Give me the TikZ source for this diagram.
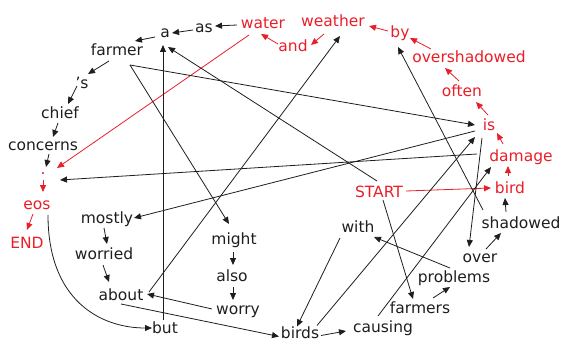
\documentclass[tikz,border=0pt]{standalone}
\usepackage{fontspec}
\setmainfont{DejaVu Sans}
\usetikzlibrary{arrows.meta,calc}
\definecolor{hl}{RGB}{234,30,40}
\definecolor{ink}{RGB}{30,30,30}

\begin{document}
\begin{tikzpicture}[x=1pt,y=-1pt,
  word/.style={anchor=base,inner sep=0pt,font=\fontsize{15.5}{18}\selectfont,text=ink},
  hot/.style={word,text=hl},
  link/.style={draw=ink,line width=0.8pt,-{Triangle[length=7pt,width=6pt]}},
  hotlink/.style={link,draw=hl}]
\useasboundingbox (0,0) rectangle (562,342);

% words (placed by their baselines)
\node[word] (a) at (165,38) {a};
\node[word] (as) at (204,33) {as};
\node[hot] (water) at (263,29) {water};
\node[hot] (weather) at (333,27) {weather};
\node[hot] (and) at (293,52) {and};
\node[hot] (by) at (400,38) {by};
\node[hot] (overshadowed) at (469,63) {overshadowed};
\node[hot] (often) at (462,97) {often};
\node[hot] (is) at (489,131) {is};
\node[hot] (damage) at (521,161) {damage};
\node[hot] (bird) at (510,193) {bird};
\node[word] (shadowed) at (521,228) {shadowed};
\node[word] (over) at (480,262) {over};
\node[word] (problems) at (454,282) {problems};
\node[word] (farmers) at (420,313) {farmers};
\node[word] (causing) at (383,332) {causing};
\node[word] (birds) at (300,338.5) {birds};
\node[word] (with) at (358,232) {with};
\node[hot] (start) at (379,197) {START};
\node[word] (might) at (234,244) {might};
\node[word] (also) at (232,281) {also};
\node[word] (worry) at (238,314) {worry};
\node[word] (but) at (165,333) {but};
\node[word] (about) at (121,300) {about};
\node[word] (worried) at (104,259) {worried};
\node[word] (mostly) at (107,223) {mostly};
\node[hot] (end) at (27,248) {END};
\node[hot] (eos) at (37,209) {eos};
\node[hot] (dot) at (43,175) {.};
\node[word] (concerns) at (43,150) {concerns};
\node[word] (chief) at (60,119) {chief};
\node[word] (s) at (82,89) {’s};
\node[word] (farmer) at (117,56) {farmer};

% red chain
\draw[hotlink] ($(start.base)+(27,-6)$) -- ($(bird.base)+(-19,-5)$);
\draw[hotlink] ($(bird.base)+(-2,-17)$) -- ($(damage.base)+(-13,5)$);
\draw[hotlink] ($(damage.base)+(-18,-17)$) -- ($(is.base)+(8,2)$);
\draw[hotlink] ($(is.base)+(-1,-16)$) -- ($(often.base)+(14,5)$);
\draw[hotlink] ($(often.base)+(-3,-16)$) -- ($(overshadowed.base)+(-24,5)$);
\draw[hotlink] ($(overshadowed.base)+(-38,-14)$) -- ($(by.base)+(10,0)$);
\draw[hotlink] ($(by.base)+(-12,-7)$) -- ($(weather.base)+(36,-1)$);
\draw[hotlink] ($(weather.base)+(-9,7)$) -- ($(and.base)+(18,-7)$);
\draw[hotlink] ($(and.base)+(-15,-8)$) -- ($(water.base)+(-2,5)$);
\draw[hotlink] ($(water.base)+(-14,6)$) -- ($(dot.base)+(14,-7)$);
\draw[hotlink] ($(dot.base)+(0,5)$) -- ($(eos.base)+(6,-17)$);
\draw[hotlink] ($(eos.base)+(-4,5)$) -- ($(end.base)+(0,-18)$);

% short black links
\draw[link] ($(water.base)+(-26,-4)$) -- ($(as.base)+(11,-7)$);
\draw[link] ($(as.base)+(-11,-3)$) -- ($(a.base)+(7,-5)$);
\draw[link] ($(a.base)+(-10,-1)$) -- ($(farmer.base)+(18,-15)$);
\draw[link] ($(farmer.base)+(-8,5)$) -- ($(s.base)+(6,-15)$);
\draw[link] ($(s.base)+(-5,-3)$) -- ($(chief.base)+(8,-15)$);
\draw[link] ($(chief.base)+(-2,4)$) -- ($(concerns.base)+(10,-13)$);
\draw[link] ($(concerns.base)+(6,4)$) -- ($(dot.base)+(3,-8)$);
\draw[link] ($(mostly.base)+(-3,5)$) -- ($(worried.base)+(3,-15)$);
\draw[link] ($(worried.base)+(-1,6)$) -- ($(about.base)+(-12,-18)$);
\draw[link] ($(might.base)+(-1,8)$) -- ($(also.base)+(1,-16)$);
\draw[link] ($(also.base)+(1,6)$) -- ($(worry.base)+(-5,-14)$);
\draw[link] ($(birds.base)+(21,-3)$) -- ($(causing.base)+(-37,-1)$);
\draw[link] ($(farmers.base)+(13,-15)$) -- ($(problems.base)+(-4,5)$);
\draw[link] ($(over.base)+(6,-13)$) -- ($(shadowed.base)+(-20,5)$);
\draw[link] ($(shadowed.base)+(-15,-16)$) -- ($(bird.base)+(-5,5)$);

% long black links
\draw[link] ($(damage.base)+(-44,-7)$) -- ($(dot.base)+(17,5)$);
\draw[link] ($(farmer.base)+(13,9)$) -- ($(is.base)+(-14,-6)$);
\draw[link] ($(farmer.base)+(13,9)$) -- ($(might.base)+(-5,-20)$);
\draw[link] ($(is.base)+(-14,0)$) -- ($(mostly.base)+(27,-5)$);
\draw[link] ($(start.base)+(-2,-16)$) -- ($(a.base)+(3,9)$);
\draw[link] ($(but.base)+(-2,-13)$) -- ($(a.base)+(-2,7)$);
\draw[link] ($(about.base)+(28,-8)$) -- ($(weather.base)+(7,9)$);
\draw[link] ($(about.base)+(0,4)$) -- ($(birds.base)+(-21,-2)$);
\draw[link] ($(worry.base)+(-26,-5)$) -- ($(about.base)+(26,-6)$);
\draw[link] ($(eos.base)+(11,6)$) .. controls +(0,85) and +(-52,0) .. ($(but.base)+(-13,-5)$);
\draw[link] ($(with.base)+(-18,6)$) -- ($(birds.base)+(-3,-12)$);
\draw[link] ($(birds.base)+(17,-13)$) -- ($(is.base)+(-14,6)$);
\draw[link] ($(causing.base)+(-5,-16)$) -- ($(damage.base)+(-30,6)$);
\draw[link] ($(problems.base)+(-4,-14)$) -- ($(with.base)+(16,5)$);
\draw[link] ($(start.base)+(4,3)$) -- ($(farmers.base)+(-7,-14)$);
\draw[link] ($(is.base)+(-7,7)$) -- ($(over.base)+(-11,-15)$);
\draw[link] ($(shadowed.base)+(-38,-18)$) -- ($(by.base)+(-2,9)$);
\end{tikzpicture}
\end{document}
